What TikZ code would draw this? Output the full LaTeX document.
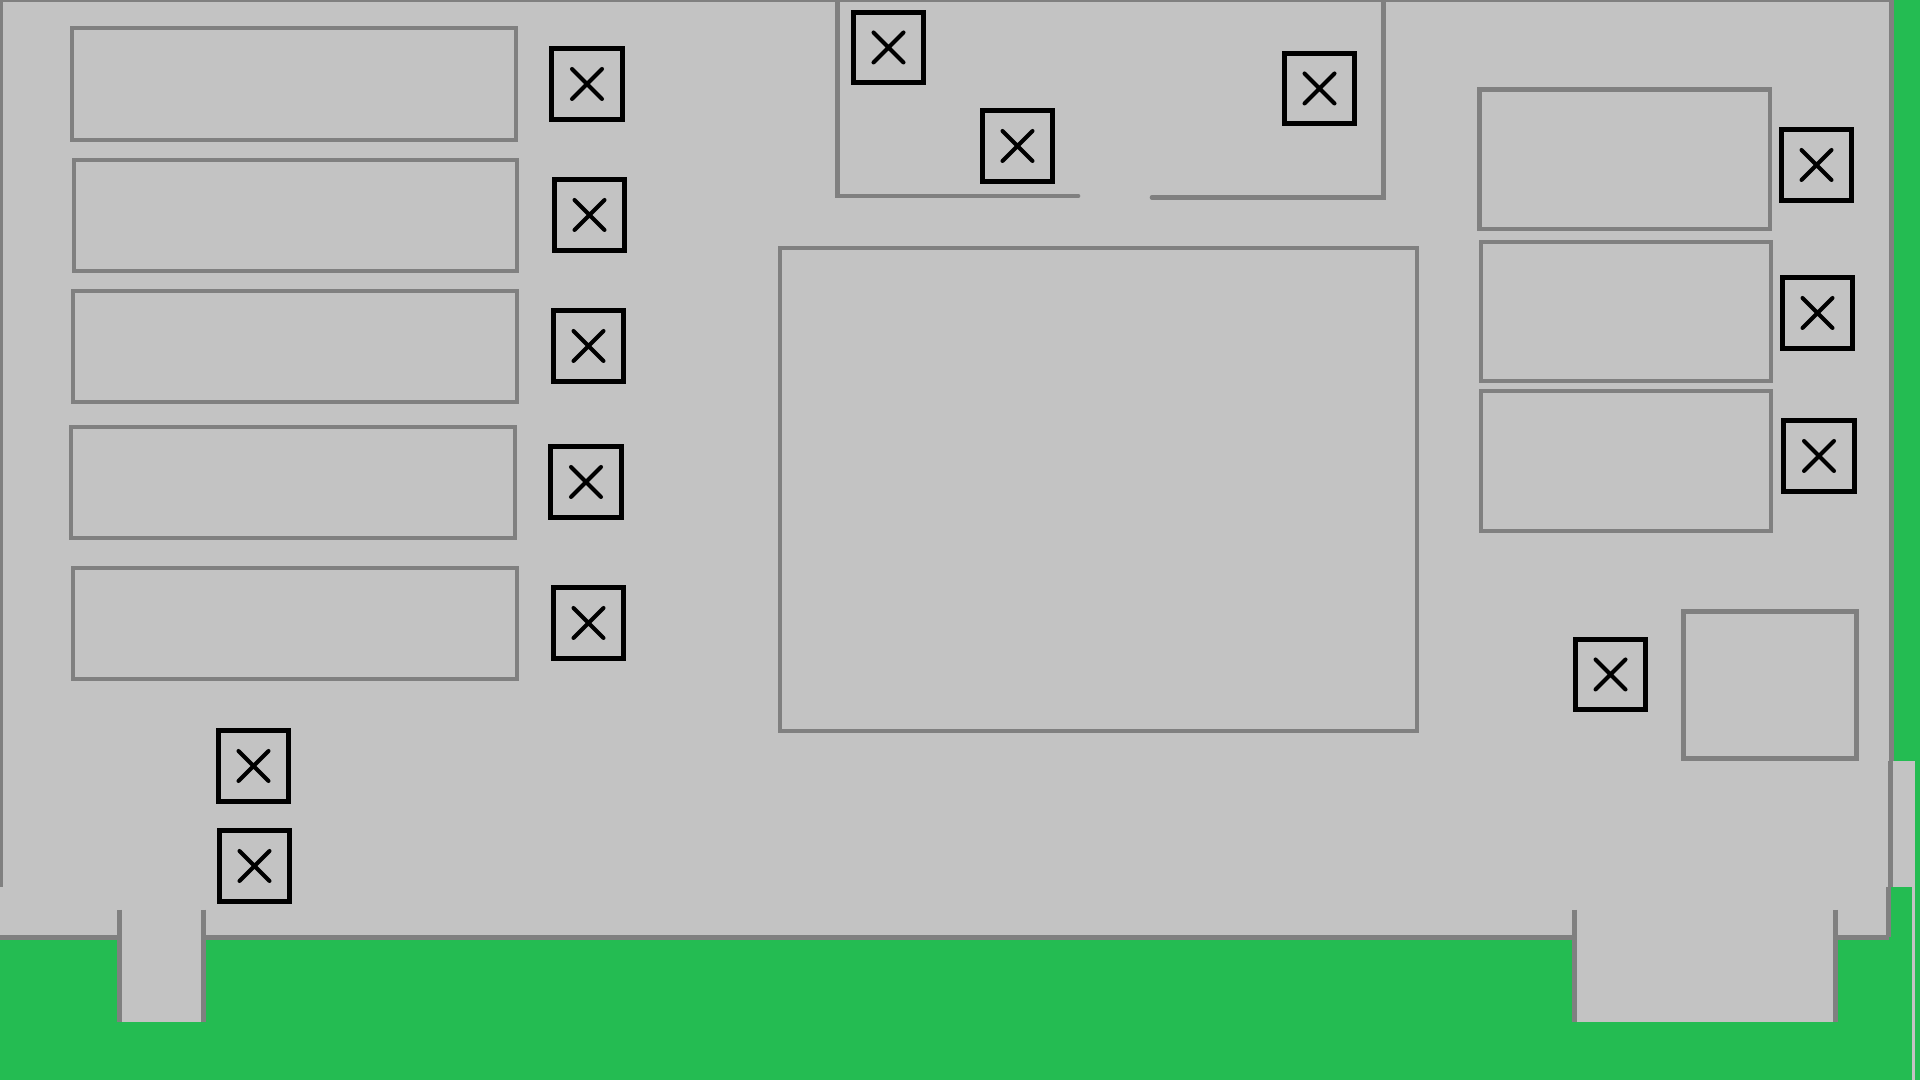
\documentclass[tikz,border=0pt]{standalone}
\definecolor{bggreen}{RGB}{36,188,82}
\definecolor{boardgray}{RGB}{195,195,195}
\definecolor{edgegray}{RGB}{128,128,128}
\tikzset{
  panel/.style={draw=edgegray, line width=0.47mm},
  edge/.style={draw=edgegray, line width=0.5mm},
  xbox/.style={draw=black, line width=0.5mm, minimum size=0.70cm, inner sep=0pt,
    path picture={
      \draw[line width=0.4mm, line cap=round]
        ([shift={(-0.15cm,-0.15cm)}]path picture bounding box.center) --
        ([shift={(0.15cm,0.15cm)}]path picture bounding box.center)
        ([shift={(-0.15cm,0.15cm)}]path picture bounding box.center) --
        ([shift={(0.15cm,-0.15cm)}]path picture bounding box.center);
    }},
}
\begin{document}
\begin{tikzpicture}[x=0.01cm, y=-0.01cm]
\useasboundingbox (0,0) rectangle (1920,1080);
% background
\fill[bggreen] (0,0) rectangle (1920,1080);
% board body and tabs
\fill[boardgray] (0,0) rectangle (1891,937.5);
\fill[boardgray] (119.5,910) rectangle (203.5,1022);
\fill[boardgray] (1574.5,910) rectangle (1835.5,1022);
\fill[boardgray] (1891,761) rectangle (1915,887);
\fill[boardgray] (1912,761) rectangle (1915,1080);
% board edges
\draw[edge] (0,0) -- (1891.5,0);
\draw[edge] (0,0) -- (0,887);
\draw[edge] (1891.5,0) -- (1891.5,761);
\draw[edge] (1890.5,761) -- (1890.5,887);
\draw[edge] (1888.5,887) -- (1888.5,937.5);
\draw[edge] (0,937.5) -- (119.5,937.5);
\draw[edge] (203.5,937.5) -- (1574.5,937.5);
\draw[edge] (1835.5,937.5) -- (1888.5,937.5);
\draw[edge] (119.5,910) -- (119.5,1022);
\draw[edge] (203.5,910) -- (203.5,1022);
\draw[edge] (1574.5,910) -- (1574.5,1022);
\draw[edge] (1835.5,910) -- (1835.5,1022);
% left panels
\draw[panel] (72,28) rectangle (516,140);
\draw[panel] (74,160) rectangle (517,271);
\draw[panel] (73,291) rectangle (517,402);
\draw[panel] (71,427) rectangle (515,538);
\draw[panel] (73,568) rectangle (517,679);
% top frame
\draw[panel, line cap=round] (1078,196) -- (837.5,196) -- (837.5,0);
\draw[panel, line cap=round] (1152,197.5) -- (1383.5,197.5) -- (1383.5,0);
% centre panel
\draw[panel] (780,248) rectangle (1417,731);
% right panels
\draw[panel] (1479.5,89.5) rectangle (1770,229);
\draw[panel] (1481,242) rectangle (1771,381);
\draw[panel] (1481,391) rectangle (1771,531);
\draw[panel] (1683.5,611.5) rectangle (1856.5,758.5);
% X boxes
\node[xbox] (l1) at (587,84) {};
\node[xbox] (l2) at (589.5,215) {};
\node[xbox] (l3) at (588.5,346) {};
\node[xbox] (l4) at (586,482) {};
\node[xbox] (l5) at (588.5,623) {};
\node[xbox] (b1) at (253.5,766) {};
\node[xbox] (b2) at (254.5,866) {};
\node[xbox] (ta) at (888.5,47.5) {};
\node[xbox] (tb) at (1017.5,146) {};
\node[xbox] (tc) at (1319.5,88.5) {};
\node[xbox] (r1) at (1816.5,165) {};
\node[xbox] (r2) at (1817.5,313) {};
\node[xbox] (r3) at (1819,456) {};
\node[xbox] (br) at (1610.5,674.5) {};
\end{tikzpicture}
\end{document}
